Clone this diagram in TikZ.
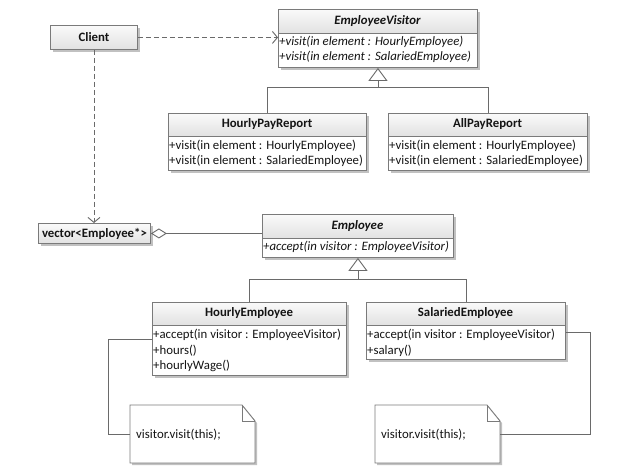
\documentclass[tikz,border=0pt]{standalone}
\usepackage{fontspec}
\setmainfont{Carlito}
\usetikzlibrary{arrows.meta,shadows,calc}
\definecolor{boxc}{HTML}{7A7A7A}
\definecolor{linec}{HTML}{6A6A6A}
\definecolor{hdtop}{HTML}{FAFAFA}
\definecolor{hdbot}{HTML}{E2E2E2}
\tikzset{
  box/.style={draw=boxc, fill=white, line width=0.9pt, anchor=north west, inner sep=0pt,
    drop shadow={shadow xshift=2.5pt, shadow yshift=-2.5pt, fill=black!30, opacity=0.8}},
  boxline/.style={draw=boxc, line width=0.9pt},
  txt/.style={font=\fontsize{12.8}{15}\selectfont, inner sep=0pt, anchor=west, text=black!92},
  ttl/.style={font=\fontsize{12.8}{15}\selectfont\bfseries, inner sep=0pt, text=black!92},
  ittl/.style={font=\fontsize{12.8}{15}\selectfont\bfseries\itshape, inner sep=0pt, text=black!92},
  itxt/.style={font=\fontsize{12.8}{15}\selectfont\itshape, inner sep=0pt, anchor=west, text=black!92},
  conn/.style={draw=linec, line width=0.9pt},
  dep/.style={conn, dashed, dash pattern=on 5pt off 3pt, -{Straight Barb[length=5pt,width=12pt]}},
  gen/.style={conn, -{Triangle[open, length=13pt, width=19pt, fill=white]}},
  agg/.style={conn, -{Diamond[open, length=16pt, width=10pt, fill=white]}},
}
% name, x1, y1, x2, y2, y of header line
\newcommand{\umlbox}[6]{%
  \node[box, minimum width={(#4-#2)*1pt}, minimum height={(#5-#3)*1pt}] (#1) at (#2,#3) {};
  \fill[top color=hdtop, bottom color=hdbot] (#2,#3) rectangle (#4,#6);
  \draw[boxline] (#2,#6) -- (#4,#6);
  \draw[boxline] (#2,#3) rectangle (#4,#5);
}
\newcommand{\notebox}[5]{% name, x1, y1, x2, y2
  \node[inner sep=0pt, anchor=north west, minimum width={(#4-#2)*1pt}, minimum height={(#5-#3)*1pt}] (#1) at (#2,#3) {};
  \fill[black!30, opacity=0.8, xshift=2pt, yshift=-2pt] (#2,#3) -- (#4-13,#3) -- (#4,#3+16) -- (#4,#5) -- (#2,#5) -- cycle;
  \draw[boxline, fill=white] (#2,#3) -- (#4-13,#3) -- (#4,#3+16) -- (#4,#5) -- (#2,#5) -- cycle;
  \draw[boxline] (#4-13,#3) -- (#4-13,#3+16) -- (#4,#3+16);
}
\begin{document}
\begin{tikzpicture}[x=1pt, y=-1pt]
\useasboundingbox[fill=white] (0,0) rectangle (633,471);

% Client
\node[box, minimum width=87pt, minimum height=24pt, top color=hdtop, bottom color=hdbot] (client) at (50,25) {};
\node[ttl] at (client.center) {Client};

% EmployeeVisitor
\umlbox{ev}{278}{9}{477}{67}{33}
\node[ittl] at (377.5,21) {EmployeeVisitor};
\node[itxt] at (279,42) {+visit(in element : HourlyEmployee)};
\node[itxt] at (279,57) {+visit(in element : SalariedEmployee)};

% HourlyPayReport
\umlbox{hpr}{168}{113}{366}{170}{136}
\node[ttl] at (267,124.5) {HourlyPayReport};
\node[txt] at (169,146) {+visit(in element : HourlyEmployee)};
\node[txt] at (169,161) {+visit(in element : SalariedEmployee)};

% AllPayReport
\umlbox{apr}{388}{113}{587}{170}{136}
\node[ttl] at (487.5,124.5) {AllPayReport};
\node[txt] at (389,146) {+visit(in element : HourlyEmployee)};
\node[txt] at (389,161) {+visit(in element : SalariedEmployee)};

% vector
\node[box, minimum width=112pt, minimum height=20pt, top color=hdtop, bottom color=hdbot] (vec) at (38,223) {};
\node[ttl] at (vec.center) {vector<Employee*>};

% Employee
\umlbox{emp}{262}{214}{453}{257}{238}
\node[ittl] at (357.5,226) {Employee};
\node[itxt] at (263,247) {+accept(in visitor : EmployeeVisitor)};

% HourlyEmployee
\umlbox{he}{152}{302}{346}{375}{325}
\node[ttl] at (249,313.5) {HourlyEmployee};
\node[txt] at (153,335) {+accept(in visitor : EmployeeVisitor)};
\node[txt] at (153,351) {+hours()};
\node[txt] at (153,366) {+hourlyWage()};

% SalariedEmployee
\umlbox{sal}{366}{302}{565}{359}{325}
\node[ttl] at (465.5,313.5) {SalariedEmployee};
\node[txt] at (367,335) {+accept(in visitor : EmployeeVisitor)};
\node[txt] at (367,351) {+salary()};

% notes
\notebox{n1}{130}{405}{255}{463}
\node[txt] at (136,435) {visitor.visit(this);};
\notebox{n2}{375}{405}{500}{463}
\node[txt] at (381,435) {visitor.visit(this);};

% connectors
\draw[dep] (client.east) -- (client.east -| ev.west);
\draw[dep] (client.south) -- (client.south |- vec.north);

\coordinate (g1) at ($(ev.south)+(0,20)$);
\draw[gen] (g1) -- (ev.south);
\draw[conn] (hpr.north) |- (g1) -| (apr.north);

\coordinate (g2) at ($(emp.south)+(0,22)$);
\draw[gen] (g2) -- (emp.south);
\draw[conn] (he.north) |- (g2) -| (sal.north);

\draw[agg] (vec.east -| emp.west) -- (vec.east);

\draw[conn] ($(he.west)+(0,0.5)$) -- ++(-44,0) |- (n1.west);
\draw[conn] ($(sal.east)+(0,1.5)$) -- ++(25,0) |- (n2.east);
\end{tikzpicture}
\end{document}
